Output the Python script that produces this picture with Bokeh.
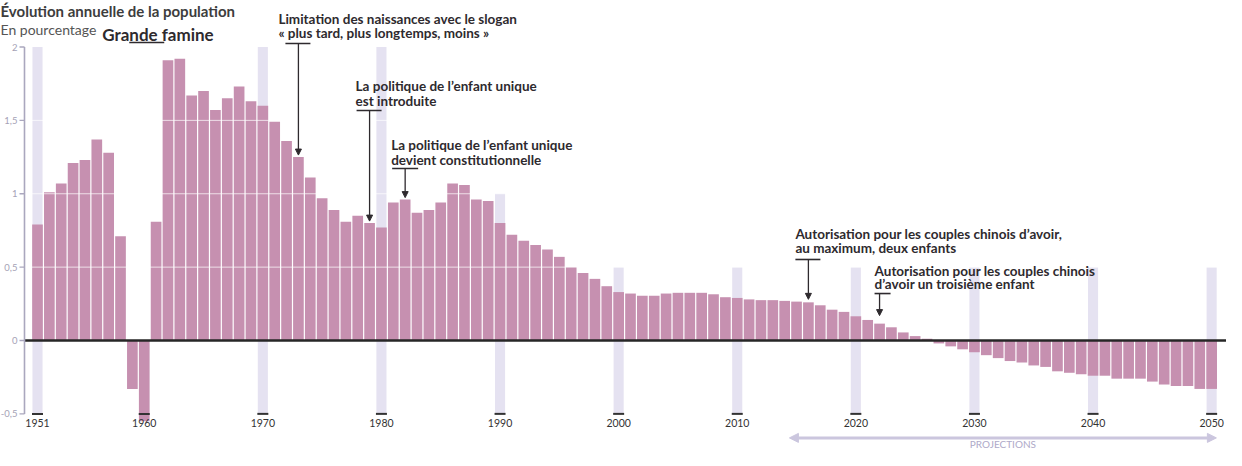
from bokeh.plotting import figure
from bokeh.models import Arrow, NormalHead
from bokeh.core.properties import value
from bokeh.embed import file_html
from bokeh.resources import INLINE

# ---------------- data ----------------
years = list(range(1951, 2051))
growth = [
    # 1951-1960
    0.79, 1.01, 1.07, 1.21, 1.23, 1.37, 1.28, 0.71, -0.33, -0.55,
    # 1961-1970
    0.81, 1.91, 1.92, 1.67, 1.70, 1.57, 1.65, 1.73, 1.63, 1.60,
    # 1971-1980
    1.49, 1.36, 1.25, 1.11, 0.97, 0.89, 0.81, 0.85, 0.80, 0.77,
    # 1981-1990
    0.94, 0.96, 0.87, 0.89, 0.94, 1.07, 1.06, 0.96, 0.95, 0.80,
    # 1991-2000
    0.72, 0.68, 0.65, 0.62, 0.57, 0.50, 0.46, 0.42, 0.37, 0.33,
    # 2001-2010
    0.32, 0.305, 0.305, 0.32, 0.325, 0.325, 0.325, 0.315, 0.295, 0.29,
    # 2011-2020
    0.28, 0.275, 0.275, 0.27, 0.265, 0.26, 0.24, 0.21, 0.195, 0.165,
    # 2021-2030
    0.14, 0.115, 0.09, 0.055, 0.03, 0.012, -0.02, -0.04, -0.06, -0.08,
    # 2031-2040
    -0.10, -0.12, -0.14, -0.15, -0.17, -0.18, -0.21, -0.22, -0.23, -0.24,
    # 2041-2050
    -0.24, -0.26, -0.26, -0.26, -0.28, -0.30, -0.31, -0.31, -0.33, -0.33,
]
tick_years = [1951, 1960, 1970, 1980, 1990, 2000, 2010, 2020, 2030, 2040, 2050]
tick_labels = ["1951", "1960", "1970", "1980", "1990", "2000", "2010", "2020", "2030", "2040", "2050"]
band_years = [1951, 1960, 1970, 1980, 1990, 2000, 2010, 2020, 2030, 2040, 2050]
band_tops = [2, 0, 2, 2, 1, 0.5, 0.5, 0.5, 0.5, 0.5, 0.5]
y_ticks = [-0.5, 0, 0.5, 1, 1.5, 2]
y_tick_labels = ["-0,5", "0", "0,5", "1", "1,5", "2"]
grid_values = [0.5, 1, 1.5]

title = "Évolution annuelle de la population"
subtitle = "En pourcentage"
proj_label = "PROJECTIONS"
proj_span = (2014.4, 2050.4)

# annotations: anchor year, text lines, y of each line, y of the T-bar
annotations = [
    dict(year=1960, lines=["Grande famine"], line_y=[2.085], bar_y=2.031,
         dx=-42, bar=(-15, 20), arrow=False, gap=0, size="17px"),
    dict(year=1973, lines=["Limitation des naissances avec le slogan",
                           "« plus tard, plus longtemps, moins »"],
         line_y=[2.194, 2.092], bar_y=2.024, dx=-20, bar=(-13, 12), arrow=True, gap=2, size="13.5px"),
    dict(year=1979, lines=["La politique de l’enfant unique", "est introduite"],
         line_y=[1.731, 1.635], bar_y=1.567, dx=-14, bar=(-13, 12), arrow=True, gap=2, size="13.5px"),
    dict(year=1982, lines=["La politique de l’enfant unique", "devient constitutionnelle"],
         line_y=[1.329, 1.227], bar_y=1.172, dx=-14, bar=(-13, 13), arrow=True, gap=2, size="13.5px"),
    dict(year=2016, lines=["Autorisation pour les couples chinois d’avoir,", "au maximum, deux enfants"],
         line_y=[0.729, 0.627], bar_y=0.552, dx=-13, bar=(-13, 12), arrow=True, gap=3, size="13.5px"),
    dict(year=2022, lines=["Autorisation pour les couples chinois", "d’avoir un troisième enfant"],
         line_y=[0.477, 0.382], bar_y=0.320, dx=-5, bar=(-5, 11), arrow=True, gap=8, size="13.5px"),
]

# ---------------- geometry ----------------
W, H = 1226, 450
XPX = 11.86     # pixels per year
YPX = 146.75    # pixels per percentage point
x_start = years[0] - 37 / XPX
x_end = x_start + W / XPX
y_top = 340 / YPX
y_bottom = y_top - H / YPX


def px_x(n):
    return n / XPX


def px_y(n):
    return n / YPX


BAR = "#c690b0"
BAND = "#e5e2f1"
AXIS = "#aaa7be"
DARK = "#2e2a2e"
FONT = value("Lato")

p = figure(width=W, height=H, x_range=(x_start, x_end), y_range=(y_bottom, y_top),
           x_axis_type=None, y_axis_type=None, toolbar_location=None,
           output_backend="svg", min_border=0)
p.grid.visible = False
p.outline_line_color = None
p.background_fill_color = "white"
p.border_fill_color = "white"

x_axis = years[0] - px_x(13)

# decade bands
p.vbar(x=band_years, bottom=min(y_ticks), top=band_tops, width=0.85,
       fill_color=BAND, line_color=None)

# bars
p.vbar(x=years, bottom=0, top=growth, width=0.9, fill_color=BAR, line_color=None)

# white grid lines over bars
p.segment(x0=[x_axis] * len(grid_values), x1=[x_end] * len(grid_values),
          y0=grid_values, y1=grid_values, line_color="white", line_alpha=0.7, line_width=1)

# zero line
p.segment(x0=[x_axis], x1=[x_end], y0=[0], y1=[0], line_color="#262626", line_width=2.6)

# left axis
p.segment(x0=[x_axis], x1=[x_axis], y0=[min(y_ticks)], y1=[max(y_ticks)],
          line_color=AXIS, line_width=1.6)
p.segment(x0=[x_axis - px_x(5)] * len(y_ticks), x1=[x_axis] * len(y_ticks),
          y0=y_ticks, y1=y_ticks, line_color=AXIS, line_width=1.4)
p.text(x=[x_axis] * len(y_ticks), y=y_ticks, text=y_tick_labels, x_offset=-7,
       text_align="right", text_baseline="middle", text_font=FONT,
       text_font_size="9.5px", text_color="#a5a2b6")

# year ticks and labels
p.segment(x0=[t - px_x(5.5) for t in tick_years], x1=[t + px_x(5.5) for t in tick_years],
          y0=[min(y_ticks)] * len(tick_years), y1=[min(y_ticks)] * len(tick_years),
          line_color="#333333", line_width=2)
p.text(x=tick_years, y=[min(y_ticks)] * len(tick_years), text=tick_labels, y_offset=5,
       text_align="center", text_baseline="top", text_font=FONT,
       text_font_size="10.5px", text_color="#333333")

# title & subtitle
p.text(x=[x_start], y=[y_top], text=[title], y_offset=1, text_align="left",
       text_baseline="top", text_font=FONT, text_font_size="15px",
       text_font_style="bold", text_color="#3d3d3d")
p.text(x=[x_start], y=[y_top], text=[subtitle], y_offset=20, text_align="left",
       text_baseline="top", text_font=FONT, text_font_size="14px", text_color="#555555")

# annotations
val_of = dict(zip(years, growth))
for a in annotations:
    yr = a["year"]
    p.text(x=[yr + px_x(a["dx"])] * len(a["lines"]), y=a["line_y"], text=a["lines"],
           text_align="left", text_baseline="middle", text_font=FONT,
           text_font_size=a["size"], text_font_style="bold", text_color=DARK)
    p.segment(x0=[yr + px_x(a["bar"][0])], x1=[yr + px_x(a["bar"][1])],
              y0=[a["bar_y"]], y1=[a["bar_y"]], line_color=DARK, line_width=1.6)
    if a["arrow"]:
        tip = val_of[yr] + px_y(a["gap"])
        p.add_layout(Arrow(x_start=yr, y_start=a["bar_y"], x_end=yr, y_end=tip,
                           line_color=DARK, line_width=1.3,
                           end=NormalHead(size=6, fill_color=DARK, line_color=DARK)))

# projections arrow
PROJ = "#cbc6de"
proj_y = min(y_ticks) - px_y(24)
p.add_layout(Arrow(x_start=proj_span[0], y_start=proj_y, x_end=proj_span[1], y_end=proj_y,
                   line_color=PROJ, line_width=3,
                   start=NormalHead(size=9, fill_color=PROJ, line_color=PROJ),
                   end=NormalHead(size=9, fill_color=PROJ, line_color=PROJ)))
p.text(x=[(proj_span[0] + proj_span[1]) / 2], y=[y_bottom], text=[proj_label], y_offset=-1,
       text_align="center", text_baseline="bottom", text_font=FONT,
       text_font_size="10px", text_color="#aea9c8")

open("out.html", "w").write(file_html(p, INLINE))
